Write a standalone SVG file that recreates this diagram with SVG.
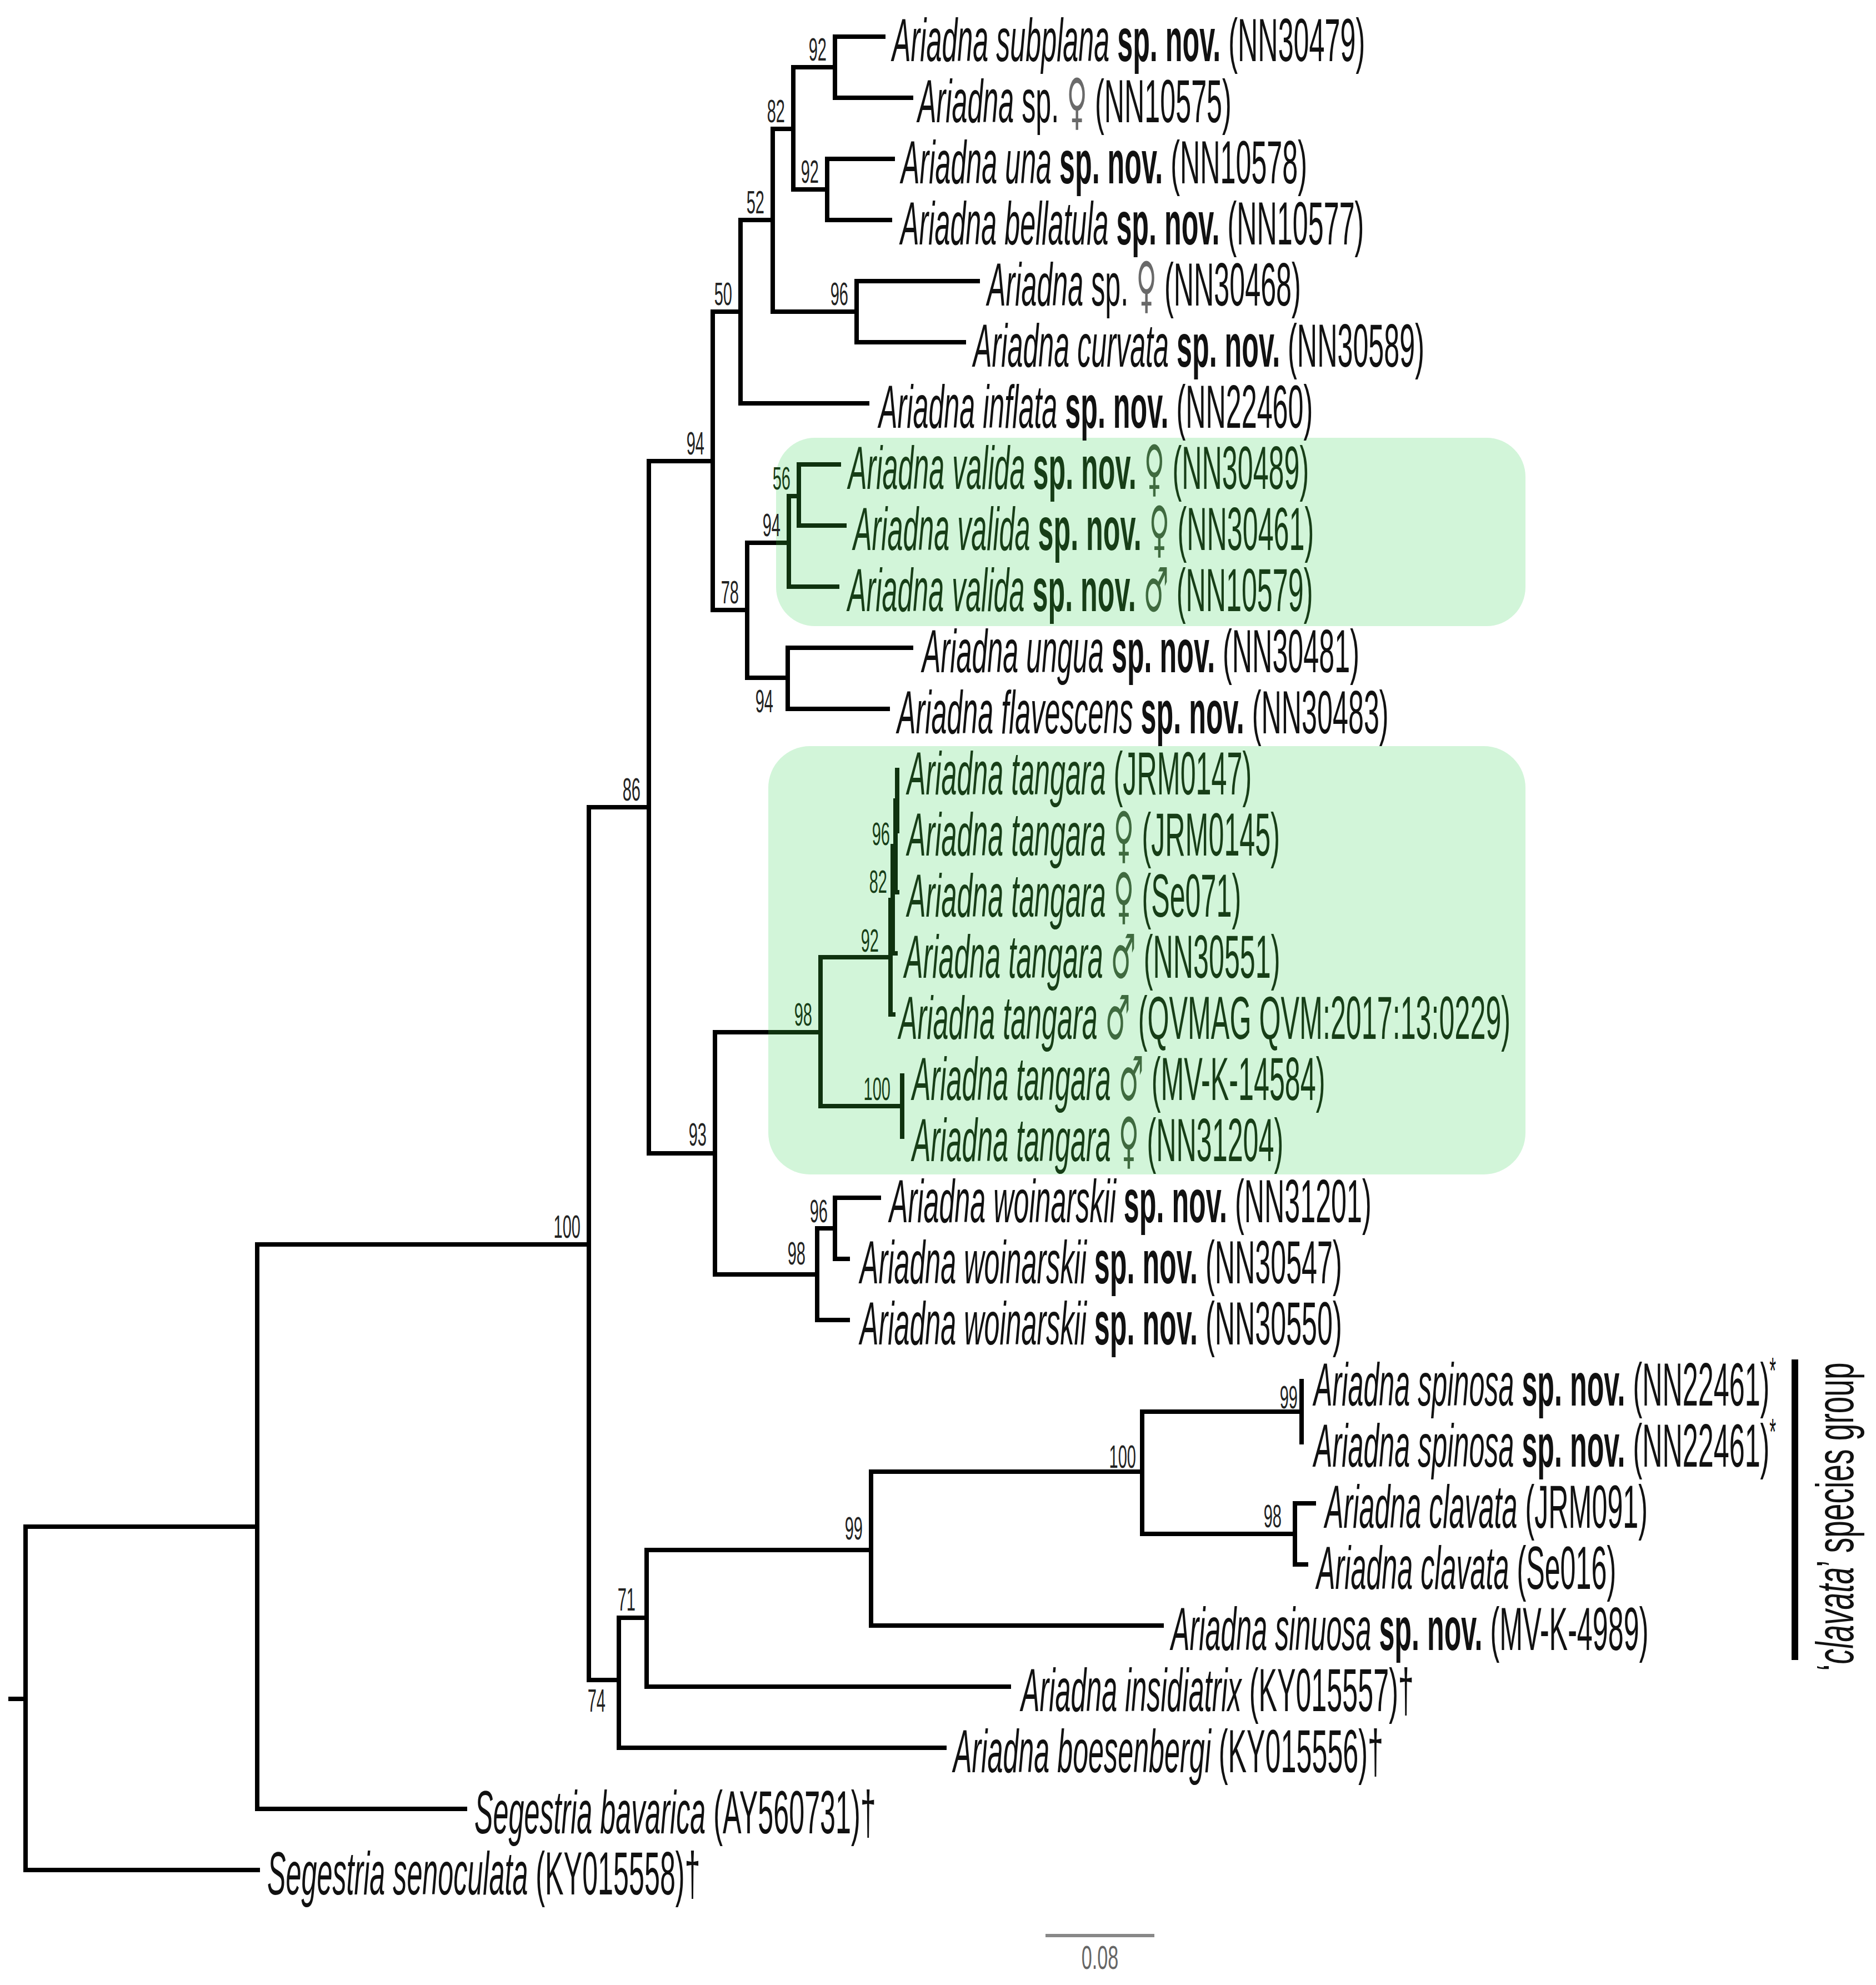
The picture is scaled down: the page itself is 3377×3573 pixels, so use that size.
<svg xmlns="http://www.w3.org/2000/svg" width="3377" height="3573" viewBox="0 0 3377 3573">
<style>
.lab{font-family:"Liberation Sans",Arial,sans-serif;font-size:110px;fill:#111}
.it{font-style:italic}
.bd{font-weight:bold}
.sx{font-family:"DejaVu Sans ExtraLight","DejaVu Sans",sans-serif;fill:#6a6a6a}
.g{fill:#173e17}
.g .sx{fill:#3f6a3f}
.sup{font-family:"Liberation Sans",Arial,sans-serif;font-size:58px;fill:#222}
.supg{fill:#173e17}
.br{stroke:#000;stroke-width:8;fill:none;stroke-linecap:square}
.brg{stroke:#0f320f;stroke-width:8;fill:none;stroke-linecap:square}
.box{fill:#d2f5d9}
</style>
<rect width="3377" height="3573" fill="#fff"/>
<g id="clade-valida"><rect class="box" x="1397" y="788" width="1349" height="339" rx="70"/></g>
<g id="clade-tangara"><rect class="box" x="1383" y="1343" width="1363" height="771" rx="75"/></g>
<g id="branches">
<path class="br" d="M19,3058H46M46,2748V3366M46,2748H463M46,3366H464M463,2240V3256M463,2240H1060M463,3256H837M1060,1453V3024M1060,1453H1168M1060,3024H1114M1168,830V2076M1168,830H1283M1168,2076H1287M1283,561V1098M1283,561H1333M1283,1098H1345M1333,396V726M1333,396H1391M1333,726H1561M1391,232V561M1391,232H1428M1391,561H1542M1428,121V341M1428,121H1503M1428,341H1489M1503,66V176M1503,66H1590M1503,176H1640M1489,286V396M1489,286H1607M1489,396H1602M1542,506V616M1542,506H1760M1542,616H1735M1345,977V1220M1345,977H1393M1345,1220H1418M1418,1166V1276M1418,1166H1640M1418,1276H1598M1287,1858V2294M1287,1858H1379M1287,2294H1471M1471,2211V2376M1471,2211H1503M1471,2376H1526M1503,2156V2266M1503,2156H1582M1503,2266H1526M1114,2912V3146M1114,2912H1164M1114,3146H1700M1164,2790V3036M1164,2790H1568M1164,3036H1816M1568,2649V2926M1568,2649H2056M1568,2926H2091M2056,2541V2761M2056,2541H2343M2056,2761H2331M2343,2486V2596M2331,2706V2816M2331,2706H2365M2331,2816H2351"/>
<path class="brg" d="M1401,977H1420M1420,893V1056M1420,893H1438M1438,836V946M1438,836H1510M1438,946H1520M1420,1056H1507M1387,1858H1477M1477,1723V1991M1477,1723H1603M1477,1991H1624M1624,1936V2046M1603,1620V1826M1603,1826H1608M1603,1620H1607M1607,1523V1716M1607,1716H1612M1607,1523H1612M1612,1441V1606M1612,1606H1615M1612,1441H1615M1615,1386V1496"/>
</g>
<g id="support">
<text class="sup" text-anchor="end" transform="translate(1488,109) scale(0.5,1)">92</text>
<text class="sup" text-anchor="end" transform="translate(1413,220) scale(0.5,1)">82</text>
<text class="sup" text-anchor="end" transform="translate(1474,329) scale(0.5,1)">92</text>
<text class="sup" text-anchor="end" transform="translate(1376,384) scale(0.5,1)">52</text>
<text class="sup" text-anchor="end" transform="translate(1527,549) scale(0.5,1)">96</text>
<text class="sup" text-anchor="end" transform="translate(1318,549) scale(0.5,1)">50</text>
<text class="sup" text-anchor="end" transform="translate(1268,818) scale(0.5,1)">94</text>
<text class="sup" text-anchor="end" transform="translate(1330,1086) scale(0.5,1)">78</text>
<text class="sup" text-anchor="end" transform="translate(1405,965) scale(0.5,1)">94</text>
<text class="sup supg" text-anchor="end" transform="translate(1423,881) scale(0.5,1)">56</text>
<text class="sup" text-anchor="end" transform="translate(1392,1282) scale(0.5,1)">94</text>
<text class="sup" text-anchor="end" transform="translate(1153,1441) scale(0.5,1)">86</text>
<text class="sup" text-anchor="end" transform="translate(1045,2228) scale(0.5,1)">100</text>
<text class="sup" text-anchor="end" transform="translate(1272,2062) scale(0.5,1)">93</text>
<text class="sup supg" text-anchor="end" transform="translate(1462,1846) scale(0.5,1)">98</text>
<text class="sup supg" text-anchor="end" transform="translate(1582,1713) scale(0.5,1)">92</text>
<text class="sup supg" text-anchor="end" transform="translate(1597,1607) scale(0.5,1)">82</text>
<text class="sup supg" text-anchor="end" transform="translate(1602,1521) scale(0.5,1)">96</text>
<text class="sup supg" text-anchor="end" transform="translate(1603,1980) scale(0.5,1)">100</text>
<text class="sup" text-anchor="end" transform="translate(1450,2276) scale(0.5,1)">98</text>
<text class="sup" text-anchor="end" transform="translate(1490,2200) scale(0.5,1)">96</text>
<text class="sup" text-anchor="end" transform="translate(1090,3081) scale(0.5,1)">74</text>
<text class="sup" text-anchor="end" transform="translate(1144,2899) scale(0.5,1)">71</text>
<text class="sup" text-anchor="end" transform="translate(1553,2771) scale(0.5,1)">99</text>
<text class="sup" text-anchor="end" transform="translate(2045,2642) scale(0.5,1)">100</text>
<text class="sup" text-anchor="end" transform="translate(2336,2535) scale(0.5,1)">99</text>
<text class="sup" text-anchor="end" transform="translate(2307,2749) scale(0.5,1)">98</text>
</g>
<g id="leaf-01"><text class="lab" transform="translate(1606,110) scale(0.457,1)"><tspan class="it">Ariadna subplana</tspan> <tspan class="bd">sp. nov.</tspan> (NN30479)</text></g>
<g id="leaf-02"><text class="lab" transform="translate(1652,220) scale(0.457,1)"><tspan class="it">Ariadna</tspan> sp. <tspan class="sx">♀</tspan> (NN10575)</text></g>
<g id="leaf-03"><text class="lab" transform="translate(1622,330) scale(0.457,1)"><tspan class="it">Ariadna una</tspan> <tspan class="bd">sp. nov.</tspan> (NN10578)</text></g>
<g id="leaf-04"><text class="lab" transform="translate(1621,440) scale(0.457,1)"><tspan class="it">Ariadna bellatula</tspan> <tspan class="bd">sp. nov.</tspan> (NN10577)</text></g>
<g id="leaf-05"><text class="lab" transform="translate(1777,550) scale(0.457,1)"><tspan class="it">Ariadna</tspan> sp. <tspan class="sx">♀</tspan> (NN30468)</text></g>
<g id="leaf-06"><text class="lab" transform="translate(1752,660) scale(0.457,1)"><tspan class="it">Ariadna curvata</tspan> <tspan class="bd">sp. nov.</tspan> (NN30589)</text></g>
<g id="leaf-07"><text class="lab" transform="translate(1582,770) scale(0.457,1)"><tspan class="it">Ariadna inflata</tspan> <tspan class="bd">sp. nov.</tspan> (NN22460)</text></g>
<g id="leaf-08"><text class="lab g" transform="translate(1527,880) scale(0.457,1)"><tspan class="it">Ariadna valida</tspan> <tspan class="bd">sp. nov.</tspan> <tspan class="sx">♀</tspan> (NN30489)</text></g>
<g id="leaf-09"><text class="lab g" transform="translate(1536,990) scale(0.457,1)"><tspan class="it">Ariadna valida</tspan> <tspan class="bd">sp. nov.</tspan> <tspan class="sx">♀</tspan> (NN30461)</text></g>
<g id="leaf-10"><text class="lab g" transform="translate(1526,1100) scale(0.457,1)"><tspan class="it">Ariadna valida</tspan> <tspan class="bd">sp. nov.</tspan> <tspan class="sx">♂</tspan> (NN10579)</text></g>
<g id="leaf-11"><text class="lab" transform="translate(1660,1210) scale(0.457,1)"><tspan class="it">Ariadna ungua</tspan> <tspan class="bd">sp. nov.</tspan> (NN30481)</text></g>
<g id="leaf-12"><text class="lab" transform="translate(1615,1320) scale(0.457,1)"><tspan class="it">Ariadna flavescens</tspan> <tspan class="bd">sp. nov.</tspan> (NN30483)</text></g>
<g id="leaf-13"><text class="lab g" transform="translate(1633,1430) scale(0.457,1)"><tspan class="it">Ariadna tangara</tspan> (JRM0147)</text></g>
<g id="leaf-14"><text class="lab g" transform="translate(1633,1540) scale(0.457,1)"><tspan class="it">Ariadna tangara</tspan> <tspan class="sx">♀</tspan> (JRM0145)</text></g>
<g id="leaf-15"><text class="lab g" transform="translate(1633,1650) scale(0.457,1)"><tspan class="it">Ariadna tangara</tspan> <tspan class="sx">♀</tspan> (Se071)</text></g>
<g id="leaf-16"><text class="lab g" transform="translate(1628,1760) scale(0.457,1)"><tspan class="it">Ariadna tangara</tspan> <tspan class="sx">♂</tspan> (NN30551)</text></g>
<g id="leaf-17"><text class="lab g" transform="translate(1618,1870) scale(0.457,1)"><tspan class="it">Ariadna tangara</tspan> <tspan class="sx">♂</tspan> (QVMAG QVM:2017:13:0229)</text></g>
<g id="leaf-18"><text class="lab g" transform="translate(1642,1980) scale(0.457,1)"><tspan class="it">Ariadna tangara</tspan> <tspan class="sx">♂</tspan> (MV-K-14584)</text></g>
<g id="leaf-19"><text class="lab g" transform="translate(1642,2090) scale(0.457,1)"><tspan class="it">Ariadna tangara</tspan> <tspan class="sx">♀</tspan> (NN31204)</text></g>
<g id="leaf-20"><text class="lab" transform="translate(1601,2200) scale(0.457,1)"><tspan class="it">Ariadna woinarskii</tspan> <tspan class="bd">sp. nov.</tspan> (NN31201)</text></g>
<g id="leaf-21"><text class="lab" transform="translate(1548,2310) scale(0.457,1)"><tspan class="it">Ariadna woinarskii</tspan> <tspan class="bd">sp. nov.</tspan> (NN30547)</text></g>
<g id="leaf-22"><text class="lab" transform="translate(1548,2420) scale(0.457,1)"><tspan class="it">Ariadna woinarskii</tspan> <tspan class="bd">sp. nov.</tspan> (NN30550)</text></g>
<g id="leaf-23"><text class="lab" transform="translate(2365,2530) scale(0.457,1)"><tspan class="it">Ariadna spinosa</tspan> <tspan class="bd">sp. nov.</tspan> (NN22461)<tspan dy="-40" font-size="66">*</tspan></text></g>
<g id="leaf-24"><text class="lab" transform="translate(2365,2640) scale(0.457,1)"><tspan class="it">Ariadna spinosa</tspan> <tspan class="bd">sp. nov.</tspan> (NN22461)<tspan dy="-40" font-size="66">*</tspan></text></g>
<g id="leaf-25"><text class="lab" transform="translate(2385,2750) scale(0.457,1)"><tspan class="it">Ariadna clavata</tspan> (JRM091)</text></g>
<g id="leaf-26"><text class="lab" transform="translate(2370,2860) scale(0.457,1)"><tspan class="it">Ariadna clavata</tspan> (Se016)</text></g>
<g id="leaf-27"><text class="lab" transform="translate(2108,2970) scale(0.457,1)"><tspan class="it">Ariadna sinuosa</tspan> <tspan class="bd">sp. nov.</tspan> (MV-K-4989)</text></g>
<g id="leaf-28"><text class="lab" transform="translate(1838,3080) scale(0.457,1)"><tspan class="it">Ariadna insidiatrix</tspan> (KY015557)†</text></g>
<g id="leaf-29"><text class="lab" transform="translate(1716,3190) scale(0.457,1)"><tspan class="it">Ariadna boesenbergi</tspan> (KY015556)†</text></g>
<g id="leaf-30"><text class="lab" transform="translate(854,3300) scale(0.457,1)"><tspan class="it">Segestria bavarica</tspan> (AY560731)†</text></g>
<g id="leaf-31"><text class="lab" transform="translate(481,3410) scale(0.457,1)"><tspan class="it">Segestria senoculata</tspan> (KY015558)†</text></g>
<g id="clavata-group">
<rect x="3225" y="2447" width="12" height="541" fill="#000"/>
<text class="lab" style="font-size:95px" text-anchor="middle" transform="translate(3336,2730) rotate(-90) scale(0.58,1)">‘<tspan class="it">clavata</tspan>’ species group</text>
</g>
<g id="scale-bar">
<line x1="1882" y1="3484" x2="2078" y2="3484" stroke="#888" stroke-width="6"/>
<text class="lab" text-anchor="middle" transform="translate(1980,3544) scale(0.57,1)" style="font-size:60px;fill:#666">0.08</text>
</g>
</svg>
